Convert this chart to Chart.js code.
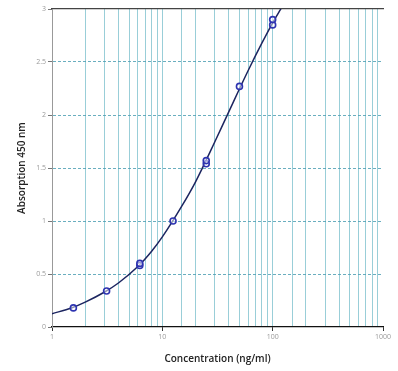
<!DOCTYPE html>
<html>
<head>
<meta charset="utf-8">
<script src="https://cdn.jsdelivr.net/npm/chart.js@4.4.1/dist/chart.umd.min.js"></script>
<style>
	html, body { margin: 0; padding: 0; background: #fff; }
	.container-canva { width: 398px; height: 371px; }
</style>
</head>
<body>
<div class="container-canva"><canvas id="myChart"></canvas></div>
<script>
// standard points (replicates at some concentrations)
const concentrations = [1.5625, 3.125, 6.25, 6.25, 12.5, 25, 25, 50, 100, 100];
const absorbances = [0.18, 0.34, 0.58, 0.6, 1.0, 1.54, 1.57, 2.27, 2.85, 2.9];

// fitted curve
const curveX = [1, 1.5, 2, 3, 4, 6, 8, 10, 15, 20, 30, 40, 60, 80, 100, 120];
const curveY = [0.125, 0.18, 0.235, 0.33, 0.415, 0.57, 0.715, 0.85, 1.14, 1.37, 1.75, 2.03, 2.42, 2.68, 2.87, 3.01];

const yTicks = [0, 0.5, 1, 1.5, 2, 2.5, 3];
const xLabels = [1, 10, 100, 1000];

const gridColor = "rgba(110, 185, 200, 0.7)";
const hGridColor = "rgba(80, 160, 180, 0.85)";
const tickFont = { family: "'Open Sans', sans-serif", size: 7 };
const titleFont = { family: "'Open Sans', sans-serif", size: 10, weight: "600" };

const toPoints = (xs, ys) => xs.map((x, i) => ({ x, y: ys[i] }));

new Chart(document.getElementById("myChart"), {
	type: "scatter",
	data: {
		datasets: [
			{
				label: "Standards",
				data: toPoints(concentrations, absorbances),
				showLine: false,
				pointRadius: 3,
				pointBorderWidth: 1.6,
				borderColor: "#2d33b0",
				backgroundColor: "rgba(255, 255, 255, 0.5)",
				order: 0,
			},
			{
				label: "Fit",
				data: toPoints(curveX, curveY),
				showLine: true,
				pointRadius: 0,
				borderColor: "#1c2560",
				borderWidth: 1.5,
				cubicInterpolationMode: "monotone",
				order: 1,
			},
		],
	},
	options: {
		responsive: true,
		maintainAspectRatio: false,
		animation: false,
		layout: { padding: { top: 9, right: 15, left: 0, bottom: 0 } },
		plugins: {
			legend: { display: false },
			tooltip: { enabled: false },
		},
		scales: {
			x: {
				type: "logarithmic",
				min: 1,
				max: 1000,
				afterFit: (scale) => { scale.height = 44; },
				border: { display: true, color: "#111", width: 1.2 },
				grid: {
					color: (ctx) => {
						if (ctx.tick && (ctx.tick.value === 1 || ctx.tick.value === 1000)) return "rgba(0,0,0,0)";
						return gridColor;
					},
					lineWidth: 1,
					tickLength: 4,
					tickColor: (ctx) => (ctx.tick && xLabels.includes(ctx.tick.value) ? "#333" : "rgba(0,0,0,0)"),
				},
				ticks: {
					autoSkip: false,
					maxRotation: 0,
					padding: 2,
					color: "#9a9a9a",
					font: tickFont,
					callback: (value) => (xLabels.includes(value) ? String(value) : ""),
				},
				title: {
					display: true,
					text: "Concentration (ng/ml)",
					color: "#222",
					font: titleFont,
					padding: { top: 0, bottom: 6 },
				},
			},
			// top frame line only
			xTop: {
				type: "logarithmic",
				position: "top",
				min: 1,
				max: 1000,
				afterFit: (scale) => { scale.height = 0; },
				border: { display: true, color: "#444", width: 1.3 },
				grid: { display: false },
				ticks: { display: false },
			},
			y: {
				min: 0,
				max: 3,
				afterFit: (scale) => { scale.width = 52; },
				afterBuildTicks: (scale) => { scale.ticks = yTicks.map((v) => ({ value: v })); },
				border: { display: true, color: "#999", width: 1, dash: [3, 2] },
				grid: {
					color: (ctx) => {
						if (!ctx.tick) return hGridColor;
						if (ctx.tick.value === 3 || ctx.tick.value === 0) return "rgba(0,0,0,0)";
						return hGridColor;
					},
					lineWidth: 1,
					tickLength: 4,
					tickColor: "#777",
				},
				ticks: {
					padding: 2,
					color: "#9a9a9a",
					font: tickFont,
					callback: (value) => String(value),
				},
				title: {
					display: true,
					text: "Absorption 450 nm",
					color: "#222",
					font: titleFont,
					padding: { top: 16, bottom: 0 },
				},
			},
		},
	},
});
</script>
</body>
</html>
